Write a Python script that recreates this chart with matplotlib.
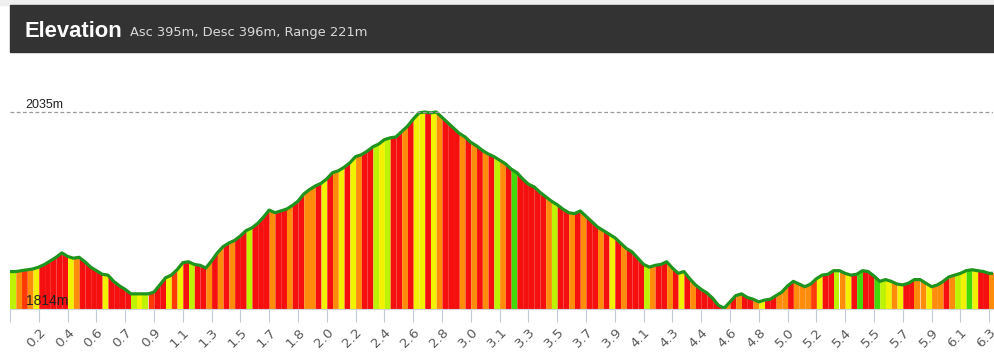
import numpy as np
import matplotlib
matplotlib.use('Agg')
import matplotlib.pyplot as plt
from matplotlib.patches import Rectangle

# elevation samples (m), one every 1/5 of a tick step
elev = [1856, 1856, 1857, 1858, 1859, 1861, 1864, 1868, 1872, 1877,
        1873, 1871, 1872, 1867, 1861, 1857, 1853, 1852, 1845, 1840,
        1836, 1831, 1831, 1831, 1831, 1833, 1841, 1849, 1852, 1858,
        1866, 1867, 1864, 1863, 1860, 1868, 1877, 1884, 1888, 1891,
        1896, 1902, 1905, 1910, 1917, 1925, 1922, 1924, 1926, 1930,
        1935, 1943, 1948, 1952, 1955, 1960, 1967, 1969, 1973, 1978,
        1985, 1987, 1991, 1996, 1999, 2004, 2006, 2007, 2013, 2019,
        2027, 2034, 2035, 2034, 2035, 2029, 2023, 2017, 2011, 2007,
        2001, 1997, 1992, 1988, 1985, 1981, 1977, 1971, 1967, 1960,
        1954, 1951, 1945, 1940, 1935, 1931, 1926, 1922, 1921, 1924,
        1918, 1912, 1906, 1902, 1898, 1894, 1888, 1882, 1878, 1871,
        1864, 1861, 1863, 1864, 1867, 1860, 1854, 1856, 1848, 1841,
        1836, 1832, 1826, 1818, 1815, 1822, 1829, 1831, 1827, 1825,
        1822, 1824, 1825, 1829, 1833, 1840, 1845, 1842, 1839, 1842,
        1848, 1852, 1853, 1857, 1857, 1854, 1852, 1853, 1857, 1856,
        1851, 1845, 1847, 1845, 1842, 1841, 1843, 1847, 1847, 1843,
        1839, 1841, 1845, 1850, 1852, 1854, 1857, 1858, 1857, 1856,
        1854, 1854]

# gradient class of each segment between samples
# R red, S red-orange, O orange, Y yellow, L yellow-green, G green
grade = ("LOSOYRRRRR" "YORRRRYRRR" "RLYLSRRYSY" "RLRRORORОR".replace('О', 'O')
         + "RLRRRORROR" "ROORYROYRY" "ORRLYLRROR" "YYRYORRROR"
         "ORORLORGRR" "RRROLRRORO" "RRORYRORRR" "LORRORYROR"
         "RRRRORORRO" "YRROOROOOS" "YRRLOYRGRR" "GLYOYRROOY"
         "OOROLYGYRR" "O")

grade_colors = {'R': '#f50f0f', 'S': '#ff3a06', 'O': '#ff8c0a',
                'Y': '#f2f200', 'L': '#bdf200', 'G': '#42d80a'}

tick_labels = ['', '0.2', '0.4', '0.6', '0.7', '0.9', '1.1', '1.3', '1.5',
               '1.7', '1.8', '2.0', '2.2', '2.4', '2.6', '2.8', '3.0', '3.1',
               '3.3', '3.5', '3.7', '3.9', '4.1', '4.3', '4.4', '4.6', '4.8',
               '5.0', '5.2', '5.4', '5.5', '5.7', '5.9', '6.1', '6.3']

e_min, e_max = 1814, 2035
ascent, descent = 395, 396

W, H = 995, 357
fig = plt.figure(figsize=(W / 100, H / 100), dpi=100)

# top strip + dark header
fig.patches.append(Rectangle((0, 1 - 5 / H), 1, 5 / H, transform=fig.transFigure,
                             color='#efefef', zorder=0))
fig.patches.append(Rectangle((10 / W, 1 - 52 / H), 985 / W, 47 / H,
                             transform=fig.transFigure, color='#333333', zorder=0))
fig.text(25 / W, 1 - 37 / H, 'Elevation', color='white', fontsize=15.8,
         fontweight='bold', family='Liberation Sans', va='baseline')
fig.text(130 / W, 1 - 36 / H,
         'Asc {}m, Desc {}m, Range {}m'.format(ascent, descent, e_max - e_min),
         color='#d8d8d8', fontsize=9.4, family='DejaVu Sans', va='baseline')

ax = fig.add_axes([10 / W, 48 / H, 983 / W, 249 / H])
x = np.arange(len(elev))
for k in range(len(elev) - 1):
    ax.fill_between(x[k:k + 2], e_min, elev[k:k + 2],
                    color=grade_colors[grade[k % len(grade)]], linewidth=0)
ax.plot(x, elev, color='#1f951f', linewidth=2.3, solid_joinstyle='round')

ax.axhline(e_max, color='#9a9a9a', linewidth=0.9, linestyle=(0, (3, 2)))
ax.text(2.6, e_max + 4.5, '{}m'.format(e_max), fontsize=9,
        family='Liberation Sans', color='#222222', va='baseline')
ax.text(2.8, e_min + 4.5, '{}m'.format(e_min), fontsize=10,
        family='Liberation Sans', color='#222222', va='baseline')

ax.set_xlim(0, 983 / 5.76)
ax.set_ylim(e_min, e_min + (e_max - e_min) * 249 / 197)
ax.set_xticks(np.arange(len(tick_labels)) * 5)
ax.set_xticklabels(tick_labels, rotation=45, ha='right', va='top',
                   rotation_mode='anchor', fontsize=9.6, color='#5a5a5a')
ax.tick_params(axis='x', length=9, width=0.8, color='#c4cad8', pad=3)
ax.set_yticks([])
for s in ['top', 'right', 'left']:
    ax.spines[s].set_visible(False)
ax.spines['bottom'].set_color('#d0d4dc')
ax.spines['bottom'].set_linewidth(0.8)

fig.savefig('out.png', dpi=100)
